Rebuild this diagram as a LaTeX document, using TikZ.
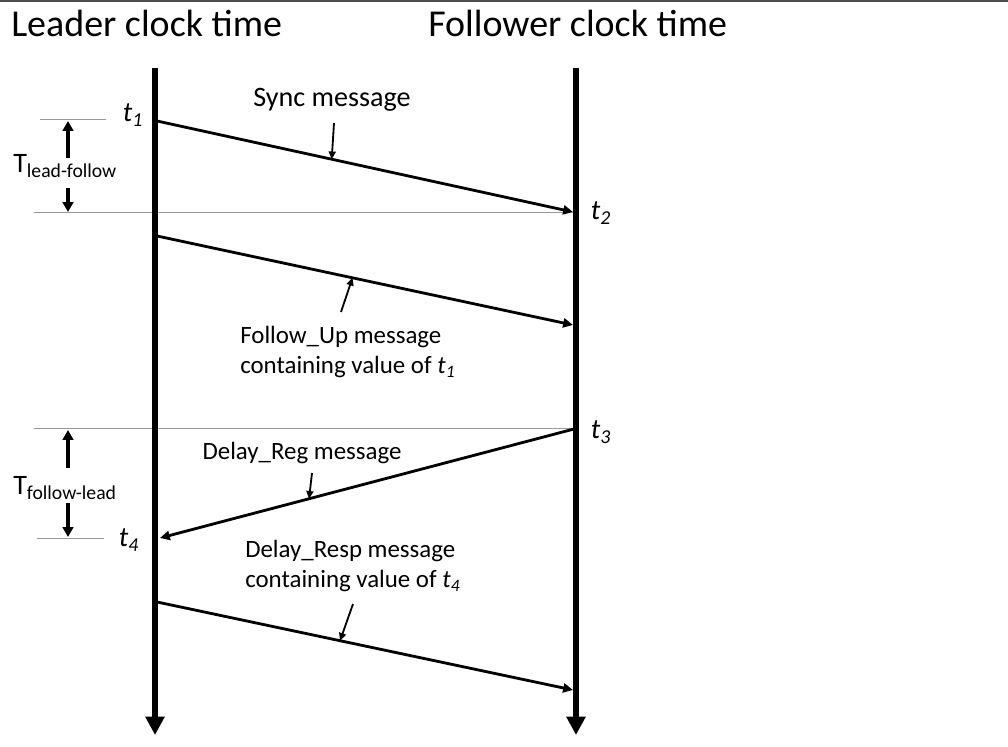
\documentclass[tikz,border=0pt]{standalone}
\usepackage{fontspec}
\setmainfont{Carlito}
\usepackage{tikz}
\usetikzlibrary{arrows.meta,calc,positioning}

\begin{document}
\begin{tikzpicture}[
    x=0.025cm, y=-0.025cm,
    lifeline/.style={line width=4.3pt, -{Triangle[length=13pt,width=13pt]}},
    msg/.style={line width=2pt, -{Triangle[length=7pt,width=6.5pt]}},
    pointer/.style={line width=1.3pt, -{Triangle[length=5.5pt,width=5pt]}},
    guide/.style={gray!80, line width=0.6pt},
    span/.style={line width=2.2pt, -{Triangle[length=7pt,width=7.5pt]}},
    title/.style={font=\fontsize{27}{32}\selectfont, inner sep=0pt},
    lbl/.style={font=\fontsize{17.7}{21.5}\selectfont, inner sep=0pt, align=left},
    tlbl/.style={font=\fontsize{20}{24}\selectfont\itshape, inner sep=0pt},
    delay/.style={font=\fontsize{20}{24}\selectfont, inner sep=0pt, anchor=base west}
]
    \useasboundingbox (0,0) rectangle (1008,747);
    \draw[gray!60!black, line width=2pt] (0,1) -- (1008,1);

    % headings
    \node[title, anchor=base west] (leadtitle) at (11,37) {Leader clock time};
    \node[title, anchor=base west] (followtitle) at (428,37) {Follower clock time};

    % clock lines
    \coordinate (ltop) at (155,68);
    \coordinate (lbot) at (155,735);
    \coordinate (ftop) at (576,68);
    \coordinate (fbot) at (576,735);

    % message end points
    \coordinate (sa) at (157,121);
    \coordinate (sb) at (573,212);
    \coordinate (fa) at (157,236);
    \coordinate (fb) at (573,325);
    \coordinate (ra) at (574,429);
    \coordinate (rb) at (160,538);
    \coordinate (pa) at (157,602);
    \coordinate (pb) at (573,690);

    % guide lines
    \coordinate (g1a) at (40,119);  \coordinate (g1b) at (106,119);
    \coordinate (g2a) at (34,212);  \coordinate (g2b) at (573,212);
    \coordinate (g3a) at (34,428);  \coordinate (g3b) at (573,428);
    \coordinate (g4a) at (37,538);  \coordinate (g4b) at (104,538);
    \draw[guide] (g1a) -- (g1b);
    \draw[guide] (g2a) -- (g2b);
    \draw[guide] (g3a) -- (g3b);
    \draw[guide] (g4a) -- (g4b);

    \draw[lifeline] (ltop) -- (lbot);
    \draw[lifeline] (ftop) -- (fbot);

    \draw[msg] (sa) -- (sb);
    \draw[msg] (fa) -- (fb);
    \draw[msg] (ra) -- (rb);
    \draw[msg] (pa) -- (pb);

    % time stamps
    \node[tlbl] (t1) at (133,115) {t\textsubscript{1}};
    \node[tlbl] (t2) at (601,213) {t\textsubscript{2}};
    \node[tlbl] (t3) at (601,432) {t\textsubscript{3}};
    \node[tlbl] (t4) at (129,540) {t\textsubscript{4}};

    % message labels
    \node[lbl, font=\fontsize{20}{24}\selectfont, anchor=base] (synclbl) at (332,107) {Sync message};
    \node[lbl, anchor=west] (followlbl) at (240,352) {Follow\_Up message\\containing value of \textit{t}\textsubscript{\textit{1}}};
    \node[lbl] (reqlbl) at (302,453) {Delay\_Reg message};
    \node[lbl, anchor=west] (resplbl) at (245,566) {Delay\_Resp message\\containing value of \textit{t}\textsubscript{\textit{4}}};

    % pointers to the messages
    \coordinate (synctail) at (334,123);
    \coordinate (followtail) at (341,312);
    \coordinate (reqtail) at (312,473);
    \coordinate (resptail) at (353,604);
    \draw[pointer] (synctail) -- ($(sa)!0.42!(sb)$);
    \draw[pointer] (followtail) -- ($(fa)!0.47!(fb)$);
    \draw[pointer] (reqtail) -- ($(ra)!0.64!(rb)$);
    \draw[pointer] (resptail) -- ($(pa)!0.44!(pb)$);

    % delays
    \node[delay] (tlf) at (13,173) {T\textsubscript{lead-follow}};
    \node[delay] (tfl) at (13,495) {T\textsubscript{follow-lead}};
    \coordinate (lfup) at (68,158);   \coordinate (lfupend) at (68,121);
    \coordinate (lfdn) at (68,188);   \coordinate (lfdnend) at (68,212);
    \coordinate (flup) at (68,468);   \coordinate (flupend) at (68,430);
    \coordinate (fldn) at (68,503);   \coordinate (fldnend) at (68,537);
    \draw[span] (lfup) -- (lfupend);
    \draw[span] (lfdn) -- (lfdnend);
    \draw[span] (flup) -- (flupend);
    \draw[span] (fldn) -- (fldnend);
\end{tikzpicture}
\end{document}
